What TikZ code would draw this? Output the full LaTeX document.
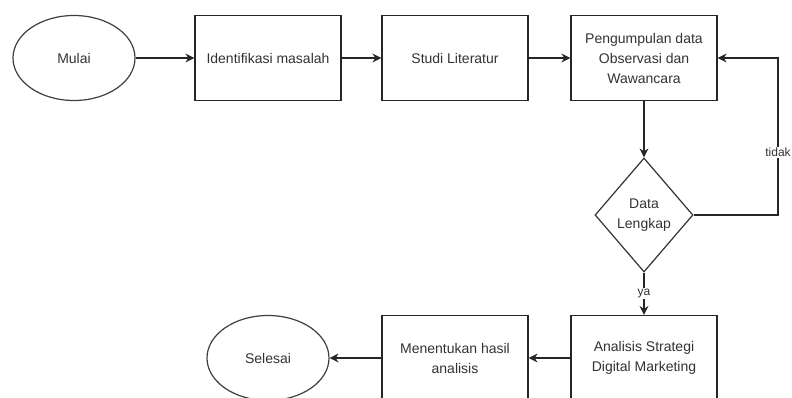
\documentclass[tikz,border=0pt]{standalone}
\usepackage{fontspec}
\setmainfont{Liberation Sans}
\usetikzlibrary{arrows.meta,shapes.geometric}

\begin{document}
\begin{tikzpicture}[x=1pt,y=-1pt,
    every node/.style={font=\fontsize{14}{20}\selectfont, text=black!80},
    proses/.style={draw=black!85, line width=1.2pt, rectangle, minimum width=146pt, minimum height=85pt, inner sep=0pt, align=center},
    terminal/.style={draw=black!75, line width=1.2pt, ellipse, minimum width=122pt, minimum height=85pt, inner sep=0pt},
    keputusan/.style={draw=black!80, line width=1.2pt, diamond, minimum width=98pt, minimum height=114pt, inner sep=0pt, align=center},
    panah/.style={draw=black!85, line width=1.2pt, -{Stealth[length=9pt,width=9pt]}},
    ket/.style={fill=white, inner sep=1pt, font=\fontsize{12}{14}\selectfont}]
  \clip (0,0) rectangle (792,397);
  \fill[white] (0,0) rectangle (792,397);

  % baris atas
  \node[terminal] (mulai) at (74,58) {Mulai};
  \node[proses] (identifikasi) at (268,58) {Identifikasi masalah};
  \node[proses] (studi) at (455,58) {Studi Literatur};
  \node[proses] (kumpul) at (644,58) {Pengumpulan data\\Observasi dan\\Wawancara};

  % keputusan
  \node[keputusan] (cek) at (644,215) {Data\\Lengkap};
  \coordinate (balik) at (778,215);

  % baris bawah
  \node[proses] (analisis) at (644,358) {Analisis Strategi\\Digital Marketing};
  \node[proses] (hasil) at (455,358) {Menentukan hasil\\analisis};
  \node[terminal] (selesai) at (268,358) {Selesai};

  \draw[panah] (mulai) -- (identifikasi);
  \draw[panah] (identifikasi) -- (studi);
  \draw[panah] (studi) -- (kumpul);
  \draw[panah] (kumpul) -- (cek);
  \draw[panah] (cek.east) -- (balik) |- node[ket, pos=0.2] {tidak} (kumpul.east);
  \draw[panah] (cek) -- node[ket] {ya} (analisis);
  \draw[panah] (analisis) -- (hasil);
  \draw[panah] (hasil) -- (selesai);
\end{tikzpicture}
\end{document}
